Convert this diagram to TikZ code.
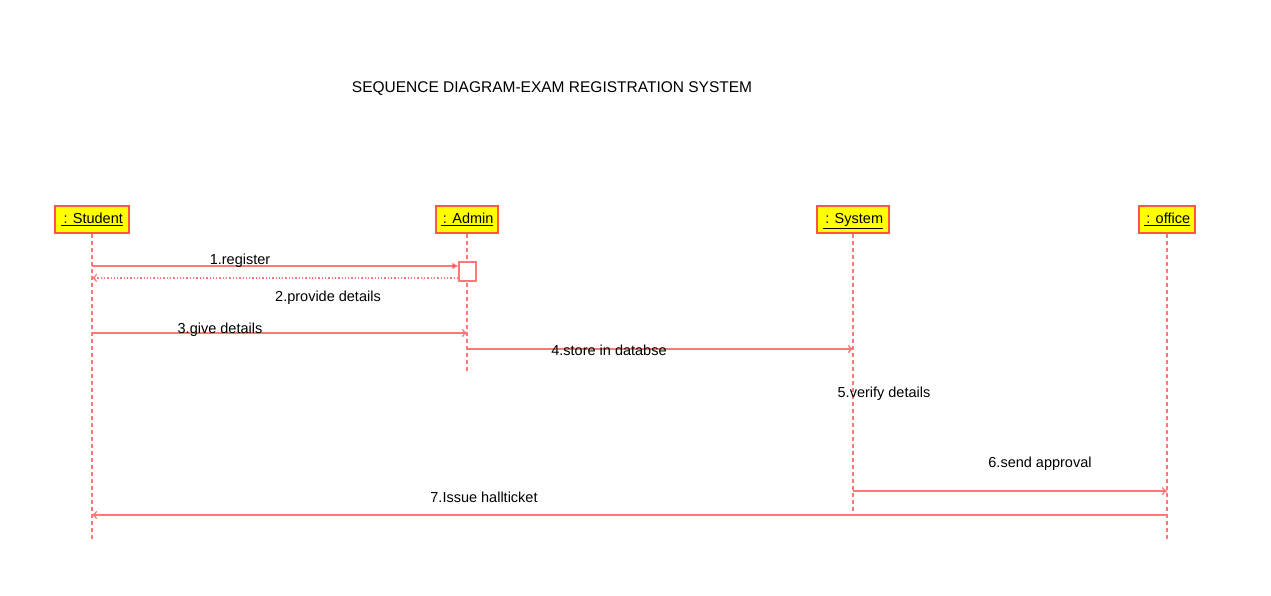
\documentclass[tikz,border=0pt]{standalone}
\usepackage{fontspec}
\setmainfont{Liberation Sans}
\usetikzlibrary{arrows.meta}
\definecolor{ln}{HTML}{FF7777}
\definecolor{bd}{HTML}{FF5544}
\definecolor{fl}{HTML}{FFFF00}
\tikzset{
  obj/.style={draw=bd, line width=1.2pt, fill=fl, minimum height=27pt, inner xsep=3pt, text height=11pt, text depth=3pt, font=\fontsize{14.5pt}{16pt}\selectfont},
  life/.style={draw=ln, line width=1.3pt, dash pattern=on 4pt off 3pt},
  msg/.style={draw=ln, line width=1.3pt, -{To[length=5pt,width=8pt]}},
  sync/.style={draw=ln, line width=1.3pt, -{Latex[length=6pt,width=7pt,fill=red]}},
  ret/.style={draw=ln, line width=1.3pt, dotted, -{To[length=5pt,width=8pt]}},
  lbl/.style={font=\fontsize{14.5pt}{16pt}\selectfont, inner sep=0pt}
}
\begin{document}
\begin{tikzpicture}[x=1pt,y=-1pt]
\useasboundingbox (0,0) rectangle (1271,595);
\node[lbl, font=\fontsize{15.5pt}{18pt}\selectfont] (title) at (552,89) {SEQUENCE DIAGRAM-EXAM REGISTRATION SYSTEM};
\node[obj, minimum width=74pt] (stu) at (92,219.5) {\underline{\,: Student}};
\node[obj, minimum width=62pt] (adm) at (467,219.5) {\underline{\,: Admin}};
\node[obj, minimum width=72pt] (sys) at (853,219.5) {\underline{\,: System}};
\node[obj, minimum width=56pt] (off) at (1167,219.5) {\underline{\,: office}};
\coordinate (stuE) at (92,540);
\coordinate (admE) at (467,372);
\coordinate (sysE) at (853,512);
\coordinate (offE) at (1167,540);
\draw[life] (stu.south) -- (stuE);
\draw[life] (adm.south) -- (admE);
\draw[life] (sys.south) -- (sysE);
\draw[life] (off.south) -- (offE);
\node[draw=ln, line width=1.3pt, fill=white, minimum width=17pt, minimum height=19pt, inner sep=0pt] (act) at (467.5,271.5) {};
% messages
\coordinate (s1) at (92,266);
\draw[sync] (s1) -- (act.west |- s1);
\node[lbl] (l1) at (240,261) {1.register};
\coordinate (s2) at (92,278);
\draw[ret] (act.west |- s2) -- (s2);
\node[lbl] (l2) at (328,298) {2.provide details};
\coordinate (s3) at (92,333);
\coordinate (a3) at (467,333);
\draw[msg] (s3) -- (a3);
\node[lbl] (l3) at (220,330) {3.give details};
\coordinate (a4) at (467,349);
\coordinate (y4) at (853,349);
\draw[msg] (a4) -- (y4);
\node[lbl] (l4) at (609,350) {4.store in databse};
\node[lbl] (l5) at (884,394) {5.verify details};
\coordinate (y6) at (853,491);
\coordinate (o6) at (1167,491);
\draw[msg] (y6) -- (o6);
\node[lbl] (l6) at (1040,464) {6.send approval};
\coordinate (o7) at (1167,515);
\coordinate (s7) at (92,515);
\draw[msg] (o7) -- (s7);
\node[lbl] (l7) at (484,497) {7.Issue hallticket};
\end{tikzpicture}
\end{document}
